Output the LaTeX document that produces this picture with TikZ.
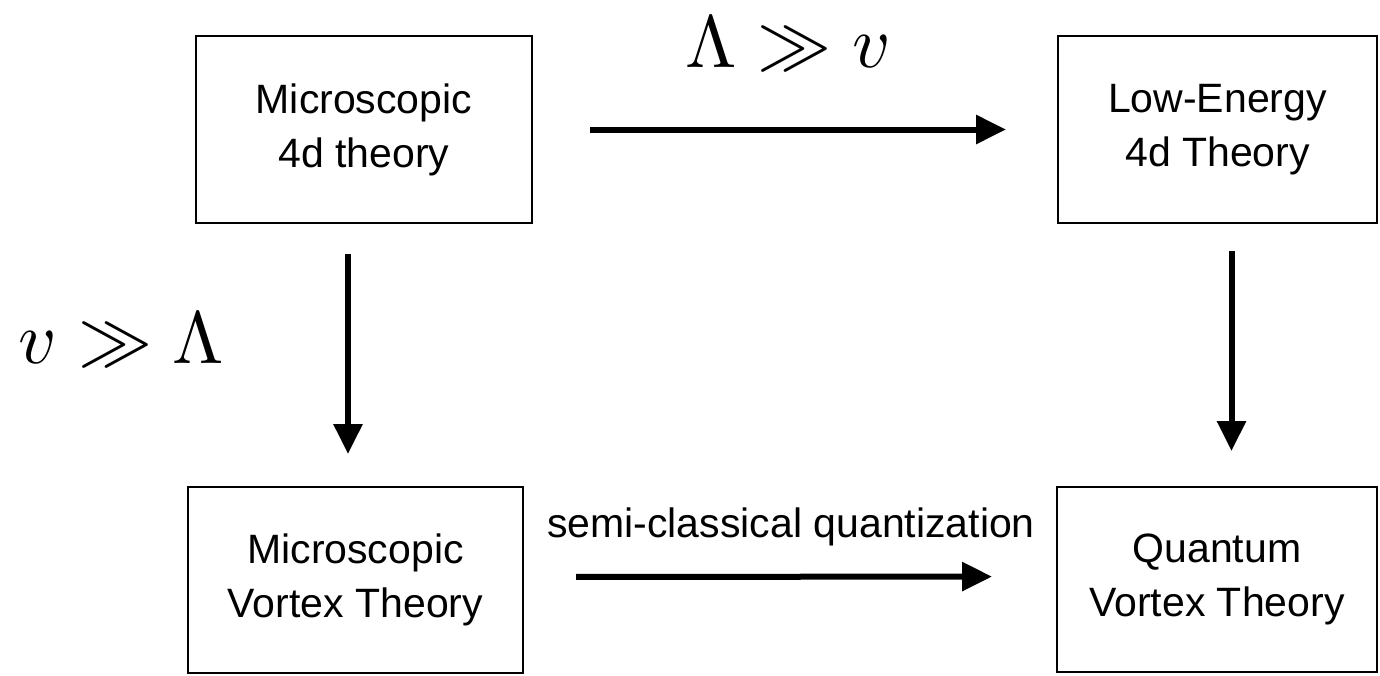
\documentclass[tikz,border=0pt]{standalone}
\usepackage{fontspec}
\setmainfont{Liberation Sans}
\usetikzlibrary{arrows.meta}
\tikzset{
  box/.style={draw=black, line width=1pt, rectangle, inner sep=0pt, align=center,
    font=\fontsize{20.5pt}{27pt}\selectfont},
  arr/.style={line width=3pt, -{Triangle[length=15pt, width=14pt]}},
  mathlbl/.style={inner sep=0pt, anchor=base, scale=3.7},
  txtlbl/.style={inner sep=0pt, anchor=base, font=\fontsize{20.5pt}{27pt}\selectfont}
}
\begin{document}
\begin{tikzpicture}[x=0.5pt, y=-0.5pt]
\useasboundingbox (0,0) rectangle (1380,675);
\node[box, minimum width=168pt, minimum height=93.5pt] (tl) at (364,129.5) {Microscopic\\4d theory};
\node[box, minimum width=159.5pt, minimum height=93.5pt] (tr) at (1217.5,129.5) {Low-Energy\\4d Theory};
\node[box, minimum width=167.5pt, minimum height=93pt] (bl) at (355.5,580) {Microscopic\\Vortex Theory};
\node[box, minimum width=160pt, minimum height=92.5pt] (br) at (1217,579.5) {Quantum\\Vortex Theory};
\draw[arr, shorten <=28.5pt, shorten >=25.5pt] (tl.east) -- (tr.west);
\draw[arr, shorten <=26pt, shorten >=32pt] ([yshift=1.5pt]bl.east) -- ([yshift=1.5pt]br.west);
\draw[arr, shorten <=15pt, shorten >=16pt] ([xshift=-8pt]tl.south) -- ([xshift=-8pt]tl.south |- bl.north);
\draw[arr, shorten <=13.5pt, shorten >=17.5pt] ([xshift=7pt]tr.south) -- ([xshift=7pt]tr.south |- br.north);
\node[mathlbl] (lgv) at (788,67) {$\Lambda \gg v$};
\node[mathlbl] (vgl) at (121.5,363) {$v \gg \Lambda$};
\node[txtlbl] (sq) at (791,537) {semi-classical quantization};
\end{tikzpicture}
\end{document}
